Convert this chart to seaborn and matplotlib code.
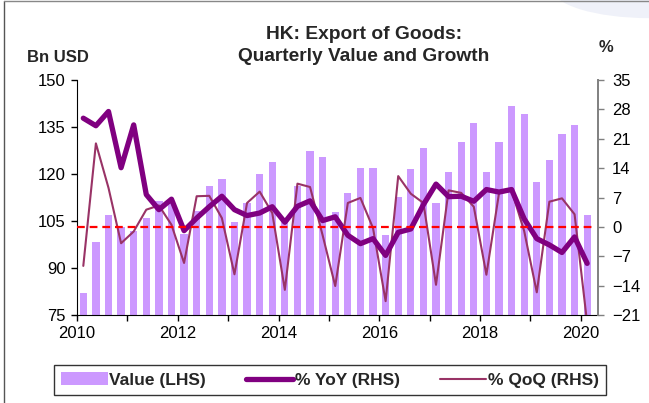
import numpy as np
import pandas as pd
import matplotlib.pyplot as plt
import seaborn as sns
from matplotlib.patches import Patch, Ellipse
from matplotlib.lines import Line2D

sns.set_style("white")
plt.rcParams['font.family'] = ['Liberation Sans', 'DejaVu Sans']

# quarterly data, 2010Q1 .. 2020Q1
value = [82.0, 98.2, 107.0, 103.0, 101.7, 106.1, 111.4, 111.0, 100.7, 108.1,
         116.2, 118.3, 104.7, 110.8, 120.0, 123.8, 106.0, 116.3, 127.2, 125.3,
         107.9, 114.0, 122.0, 121.8, 100.4, 112.6, 121.5, 128.3, 110.8, 120.5,
         130.3, 136.2, 120.5, 130.2, 141.6, 139.1, 117.3, 124.4, 132.8, 135.5,
         107.0]
yoy = [25.9, 24.1, 27.5, 14.1, 24.3, 7.7, 4.1, 6.6, -0.9, 2.1,
       4.8, 7.3, 4.1, 2.7, 3.3, 4.8, 1.1, 4.9, 6.2, 1.5,
       2.4, -2.0, -4.0, -2.8, -6.8, -1.3, -0.5, 5.3, 10.2, 7.2,
       7.3, 6.1, 8.9, 8.3, 8.9, 1.9, -2.8, -4.3, -6.1, -2.4,
       -8.7]
qoq = [-9.3, 19.9, 9.3, -3.9, -1.1, 4.1, 5.1, 0.5, -8.6, 7.3,
       7.4, 2.1, -11.3, 5.7, 8.4, 3.3, -15.0, 10.3, 9.5, -2.0,
       -14.1, 5.7, 6.9, -0.3, -17.7, 12.1, 7.9, 5.7, -13.8, 8.7,
       8.1, 4.8, -11.4, 8.0, 8.7, -1.0, -15.6, 6.0, 6.8, 3.0,
       -23.0]
years = list(range(2010, 2021))
left_ticks = [75, 90, 105, 120, 135, 150]
right_ticks = [-21, -14, -7, 0, 7, 14, 21, 28, 35]

# bar centre = middle of each quarter
xq = [round(2010 + (i + 0.5) / 4, 3) for i in range(len(value))]
df = pd.DataFrame({'x': xq, 'value': value, 'yoy': yoy, 'qoq': qoq})

fig = plt.figure(figsize=(6.49, 4.03), dpi=100)
fig.patches.append(Ellipse((1.0, 1.03), 0.3, 0.15, transform=fig.transFigure,
                           facecolor='#EFF1F9', edgecolor='none', zorder=0))
ax = fig.add_axes([77 / 649, 1 - 315 / 403, 521 / 649, 235 / 403])

sns.barplot(data=df, x='x', y='value', ax=ax, native_scale=True, orient='x',
            color='#CC99FF', saturation=1, width=0.58, errorbar=None,
            linewidth=0)
ax.set_ylim(75, 150)
ax.set_xlim(2010, 2020.34)
ax.set_yticks(left_ticks)
ax.set_xticks(years)
ax.set_xticklabels([str(y) if y % 2 == 0 else '' for y in years])
ax.set_xlabel('')
ax.set_ylabel('')
ax.tick_params(axis='both', direction='out', length=4, width=1, labelsize=12,
               colors='black', pad=4, left=True, bottom=True)
for s in ['top', 'right']:
    ax.spines[s].set_visible(False)
ax.spines['left'].set_color('black')
ax.spines['bottom'].set_color('black')

ax2 = ax.twinx()
sns.lineplot(data=df, x='x', y='qoq', ax=ax2, color='#993366', lw=1.5)
sns.lineplot(data=df, x='x', y='yoy', ax=ax2, color='#800080', lw=3.8)
ax2.axhline(0, xmin=0, xmax=(2020.25 - 2010) / 10.34, color='#FF0000',
            lw=1.6, ls=(0, (3.5, 2.2)))
ax2.set_ylim(-21, 35)
ax2.set_yticks(right_ticks)
ax2.set_ylabel('')
ax2.set_xlim(2010, 2020.34)
ax2.tick_params(axis='y', direction='out', length=4, width=1, labelsize=12,
                colors='black', pad=6, right=True)
ax2.tick_params(axis='y', color='#808080')
for s in ['top', 'left', 'bottom']:
    ax2.spines[s].set_visible(False)
ax2.spines['right'].set_color('#808080')
ax2.spines['right'].set_linewidth(1.4)

fig.text(364 / 649, 1 - 45.5 / 403, 'HK: Export of Goods:\nQuarterly Value and Growth',
         ha='center', va='center', fontsize=13.8, fontweight='bold',
         linespacing=1.35)
fig.text(58 / 649, 1 - 58 / 403, 'Bn USD', ha='center', va='center',
         fontsize=12, fontweight='bold')
fig.text(606 / 649, 1 - 47 / 403, '%', ha='center', va='center',
         fontsize=12, fontweight='bold')

handles = [Patch(facecolor='#CC99FF', edgecolor='none'),
           Line2D([], [], color='#800080', lw=3.8),
           Line2D([], [], color='#993366', lw=1.5)]
labels = ['Value (LHS)', '% YoY (RHS)', '% QoQ (RHS)']
leg = fig.legend(handles, labels, ncol=3, loc='center',
                 bbox_to_anchor=(330 / 649, 1 - 380 / 403),
                 frameon=True, fancybox=False, edgecolor='black',
                 prop={'weight': 'bold', 'size': 12.5},
                 handlelength=2.7, handletextpad=0.1, columnspacing=2.3,
                 borderpad=0.4, borderaxespad=0)
leg.get_frame().set_linewidth(1.0)

fig.add_artist(Line2D([4 / 649, 4 / 649], [0, 0.997], transform=fig.transFigure,
                      color='#555555', lw=1))
fig.add_artist(Line2D([4 / 649, 1], [0.997, 0.997], transform=fig.transFigure,
                      color='#888888', lw=1))

fig.savefig('out.png', dpi=100)
